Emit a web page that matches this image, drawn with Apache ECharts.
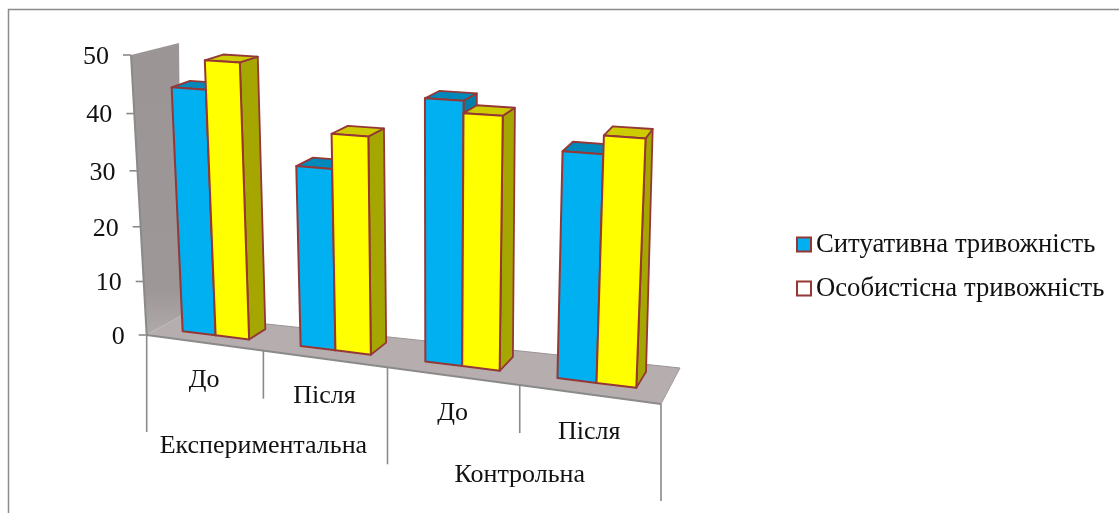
<!DOCTYPE html>
<html>
<head>
<meta charset="utf-8">
<style>html,body{margin:0;padding:0;background:#fff}#chart{width:1119px;height:513px}</style>
<script src="https://cdn.jsdelivr.net/npm/echarts@6/dist/echarts.min.js"></script>
</head>
<body>
<div id="chart"></div>
<script>
// Anxiety scores per group and stage
const stages = ['До', 'Після', 'До', 'Після'];
const groups = ['Експериментальна', 'Контрольна'];
const seriesNames = ['Ситуативна тривожність', 'Особистісна тривожність'];
const situational = [44, 32, 45, 38];
const personal = [49, 38, 43, 41];
const valueTicks = [0, 10, 20, 30, 40, 50];

// Pictorial projection of the value/category plane: front and back planes of the box
const frontPlane = [[146.7, 335], [661, 404], [677, 88], [131, 55]];
const backPlane = [[182, 315], [680, 368], [688, 72], [172, 43]];
const wallTopBack = [179, 43];
const barDepth = [0.34, 0.80];
const barWidth = 0.285;
const barStart = 0.21;
const groupLabelDrop = [96, 90];

function homography(q) {
  const [[x0, y0], [x1, y1], [x2, y2], [x3, y3]] = q;
  const dx1 = x1 - x2, dx2 = x3 - x2, sx = x0 - x1 + x2 - x3;
  const dy1 = y1 - y2, dy2 = y3 - y2, sy = y0 - y1 + y2 - y3;
  const den = dx1 * dy2 - dx2 * dy1;
  const g = (sx * dy2 - dx2 * sy) / den, h = (dx1 * sy - sx * dy1) / den;
  const a = x1 - x0 + g * x1, b = x3 - x0 + h * x3, d = y1 - y0 + g * y1, e = y3 - y0 + h * y3;
  return (s, t) => {
    const w = g * s + h * t + 1;
    return [(a * s + b * t + x0) / w, (d * s + e * t + y0) / w];
  };
}
const front = homography(frontPlane);
const back = homography(backPlane);

// Category position + value + depth -> screen, going through the chart's own axes
function projector(params, api) {
  const cs = params.coordSys;
  const band = api.size([1, 0])[0];
  return (pos, value, depth) => {
    const px = api.coord([0, value]);
    const s = (px[0] + (pos - 0.5) * band - cs.x) / cs.width;
    const t = (cs.y + cs.height - px[1]) / cs.height;
    const f = front(s, t), b = back(s, t);
    return [f[0] + (b[0] - f[0]) * depth, f[1] + (b[1] - f[1]) * depth];
  };
}

const poly = (points, fill, stroke, lineWidth) => ({
  type: 'polygon', shape: { points },
  style: { fill, stroke: stroke || 'none', lineWidth: lineWidth || 0, lineJoin: 'round' }
});
const seg = (a, b, stroke, lineWidth) => ({
  type: 'line', shape: { x1: a[0], y1: a[1], x2: b[0], y2: b[1] },
  style: { stroke, lineWidth }
});
const label = (p, text, size, align) => ({
  type: 'text',
  style: {
    x: p[0], y: p[1], text, fill: '#111',
    font: size + 'px "Liberation Serif"', align: align || 'center', verticalAlign: 'middle'
  }
});

const AXIS = '#8a8a8a';
const EDGE = '#953735';

function renderBox(colors, slot) {
  return (params, api) => {
    const P = projector(params, api);
    const cat = api.value(0), v = api.value(1);
    const x0 = cat + barStart + slot * barWidth, x1 = x0 + barWidth;
    const [d0, d1] = barDepth;
    const fb = [x0, 0, d0], fbr = [x1, 0, d0], bbr = [x1, 0, d1];
    const ftl = P(x0, v, d0), ftr = P(x1, v, d0), btr = P(x1, v, d1), btl = P(x0, v, d1);
    return {
      type: 'group',
      children: [
        poly([P(...fbr), P(...bbr), btr, ftr], colors.side, EDGE, 1.8),
        poly([ftl, ftr, btr, btl], colors.top, EDGE, 1.8),
        poly([P(...fb), P(...fbr), ftr, ftl], colors.face, EDGE, 2)
      ]
    };
  };
}

// Walls, floor, ticks and every axis label live in the backdrop series
function renderBackdrop(params, api) {
  const P = projector(params, api);
  const n = stages.length;
  const kids = [];
  kids.push(poly([P(0, 0, 0), P(0, 50, 0), wallTopBack, P(0, 0, 1)], {
    type: 'linear', x: 0, y: 0, x2: 0, y2: 1,
    colorStops: [{ offset: 0, color: '#9b9595' }, { offset: 0.85, color: '#9d9797' }, { offset: 1, color: '#b0aaaa' }]
  }));
  kids.push(poly([P(0, 0, 0), P(n, 0, 0), P(n, 0, 1), P(0, 0, 1)], '#b6aeae'));
  kids.push(seg(P(0, 0, 1), P(n, 0, 1), '#9a9494', 1));
  kids.push(seg(P(n, 0, 1), P(n, 0, 0), '#a09a9a', 1));
  kids.push(seg(P(0, 0, 0), P(0, 50, 0), AXIS, 2));
  kids.push(seg(P(0, 0, 0), P(n, 0, 0), AXIS, 2));
  valueTicks.forEach(v => {
    const p = P(0, v, 0);
    kids.push(seg([p[0] - 8, p[1]], p, AXIS, 1.6));
    kids.push(label([p[0] - 22, p[1] + 2], String(v), 26, 'right'));
  });
  for (let i = 0; i <= n; i++) {
    const p = P(i, 0, 0);
    kids.push(seg(p, [p[0], p[1] + (i % 2 ? 48 : 97)], AXIS, 1.6));
  }
  stages.forEach((s, i) => {
    const p = P(i + 0.5, 0, 0);
    kids.push(label([p[0], p[1] + 37.5], s, 26));
  });
  groups.forEach((g, i) => {
    const p = P(2 * i + 1, 0, 0);
    kids.push(label([p[0], p[1] + groupLabelDrop[i]], g, 26));
  });
  return { type: 'group', children: kids };
}

const chart = echarts.init(document.getElementById('chart'), null, { renderer: 'canvas' });
chart.setOption({
  animation: false,
  backgroundColor: '#fff',
  grid: { left: 100, top: 50, width: 500, height: 300 },
  xAxis: { type: 'category', data: stages.map((s, i) => i + ':' + s), show: false },
  yAxis: { type: 'value', min: 0, max: 50, interval: 10, show: false },
  legend: {
    left: 791, top: 226, orient: 'vertical', itemGap: 17, itemWidth: 14, itemHeight: 14,
    selectedMode: false,
    textStyle: { fontFamily: 'Liberation Serif', fontSize: 26.7, color: '#111' },
    data: [
      { name: seriesNames[0], icon: 'rect', itemStyle: { color: '#00b0f0', borderColor: EDGE, borderWidth: 2 } },
      { name: seriesNames[1], icon: 'rect', itemStyle: { color: '#ffffff', borderColor: EDGE, borderWidth: 2 } }
    ]
  },
  graphic: [
    { type: 'polyline', silent: true, shape: { points: [[8.5, 513], [8.5, 9.5], [1119, 9.5]] }, style: { fill: 'none', stroke: '#8c8c8c', lineWidth: 1.5 } }
  ],
  series: [
    { type: 'custom', name: 'backdrop', silent: true, z: 1, renderItem: renderBackdrop, data: [[0, 0]], encode: { x: 0, y: 1 } },
    {
      type: 'custom', name: seriesNames[0], z: 2, silent: true,
      itemStyle: { color: '#00b0f0' },
      renderItem: renderBox({ face: '#00b0f0', top: '#0088ba', side: '#0080a8' }, 0),
      data: situational.map((v, i) => [i, v]), encode: { x: 0, y: 1 }
    },
    {
      type: 'custom', name: seriesNames[1], z: 3, silent: true,
      itemStyle: { color: '#ffff00' },
      renderItem: renderBox({ face: '#ffff00', top: '#cccc00', side: '#a6a600' }, 1),
      data: personal.map((v, i) => [i, v]), encode: { x: 0, y: 1 }
    }
  ]
});
</script>
</body>
</html>
